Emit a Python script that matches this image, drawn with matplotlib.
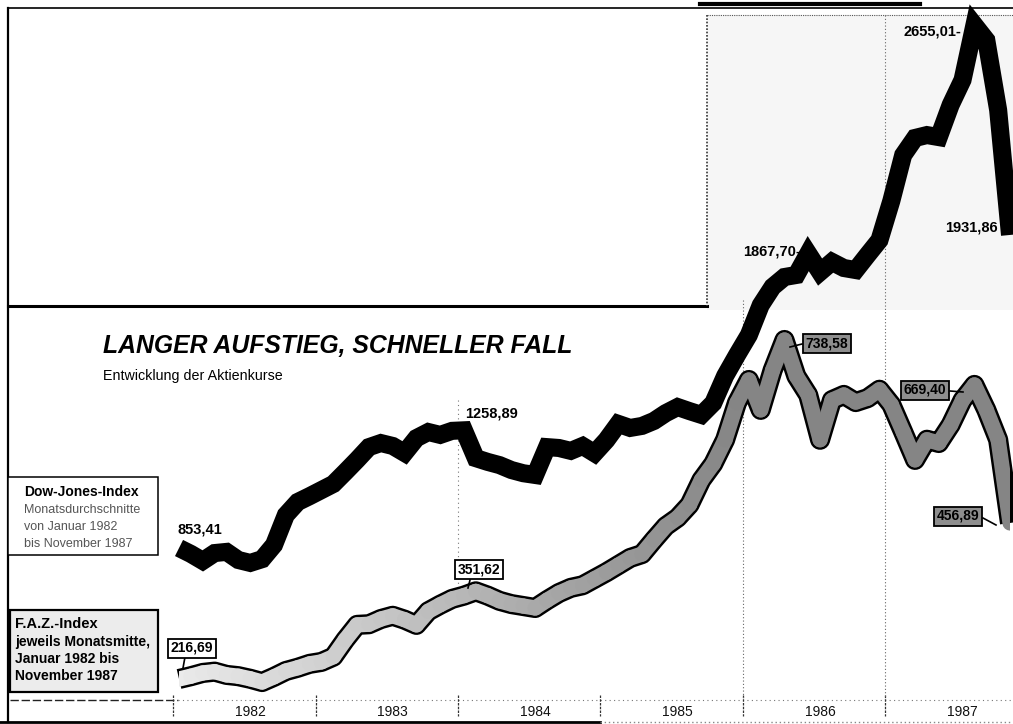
import matplotlib
matplotlib.use("Agg")
import matplotlib.pyplot as plt
from matplotlib import font_manager
from matplotlib.collections import LineCollection
from matplotlib.patches import Rectangle
import numpy as np

W, H = 1013, 724

# monthly values, Jan 1982 .. Nov 1987
MONTHS = np.arange(71)
DOW = [
    853.41, 833, 809, 836, 840, 812, 802, 815, 864, 967, 1012, 1032,
    1053, 1074, 1115, 1157, 1201, 1215, 1205, 1181, 1232, 1253, 1243, 1257,
    1258.89, 1163, 1150, 1139, 1122, 1111, 1105, 1201, 1198, 1188, 1205, 1180,
    1225, 1281, 1267, 1274, 1291, 1318, 1339, 1325, 1312, 1353, 1446, 1518,
    1587, 1690, 1753, 1787, 1794, 1867.70, 1804, 1839, 1818, 1811, 1863, 1914,
    2049, 2207, 2266, 2276, 2269, 2380, 2466, 2655.01, 2603, 2362, 1931.86,
]
FAZ = [
    216.69, 221, 226, 228, 223, 221, 217, 212, 220, 229, 234, 240,
    243, 251, 277, 300, 301, 309, 314, 308, 300, 321, 331, 340,
    345, 351.62, 345, 337, 332, 329, 326, 338, 349, 357, 361, 371,
    381, 392, 403, 409, 431, 452, 465, 485, 523, 548, 585, 642,
    677, 631, 692, 738.58, 683, 654, 585, 646, 654, 643, 649, 662,
    639, 597, 554, 585, 580, 608, 646, 669.40, 631, 585, 456.89,
]
YEARS = ["1982", "1983", "1984", "1985", "1986", "1987"]

DOW_LABELS = [(0, "853,41"), (24, "1258,89"), (53, "1867,70-"), (67, "2655,01-"), (70, "1931,86")]
FAZ_LABELS = [(0, "216,69"), (25, "351,62"), (51, "738,58"), (67, "669,40"), (70, "456,89")]

names = {f.name for f in font_manager.fontManager.ttflist}
NARROW = "Liberation Sans Narrow" if "Liberation Sans Narrow" in names else "Liberation Sans"
SANS = "Liberation Sans"

plt.rcParams["hatch.color"] = "#cfcfcf"
plt.rcParams["hatch.linewidth"] = 0.6

fig = plt.figure(figsize=(W / 100, H / 100), dpi=100)
fig.patch.set_facecolor("white")

# background layer, pixel coordinates
bg = fig.add_axes([0, 0, 1, 1], zorder=0)
bg.set_xlim(0, W)
bg.set_ylim(H, 0)
bg.axis("off")

bg.add_patch(Rectangle((707, 15), W - 707, 295, facecolor="#f6f6f6", edgecolor="none",
                       hatch="...", linewidth=0))
bg.plot([8, 8], [8, 722], color="black", lw=1.6)
bg.plot([8, W], [8, 8], color="black", lw=1.2)
bg.plot([700, 920], [4, 4], color="black", lw=3)
bg.plot([707, W], [15, 15], color="#555555", lw=0.8, ls=(0, (1, 1)))
bg.plot([8, 707], [306, 306], color="black", lw=2.2)
bg.plot([707, 707], [15, 306], color="#333333", lw=1.2, ls=(0, (1, 1)))
bg.plot([0, 600], [722, 722], color="black", lw=2)
bg.plot([600, W], [722, 722], color="#888888", lw=1, ls=(0, (1, 2)))


# month index -> pixel for guide lines
def px(m):
    return 179 + m * 11.87


# axis baseline, year ticks and guides
bg.plot([10, 178], [700, 700], color="#222222", lw=1, ls=(0, (6, 2)))
bg.plot([178, W], [700, 700], color="#777777", lw=0.8, ls=(0, (1, 3)))
for k in range(6):
    x0 = px(12 * k - 0.5)
    bg.plot([x0, x0], [695, 716], color="#333333", lw=0.9, ls=(0, (2, 1)))
    bg.text(px(12 * k + 6), 712, YEARS[k], ha="center", va="center",
            family=NARROW, fontsize=10, color="#111111")
bg.plot([px(23.5)] * 2, [400, 590], color="#777777", lw=0.8, ls=(0, (1, 3)))
bg.plot([px(47.5)] * 2, [300, 700], color="#666666", lw=0.8, ls=(0, (1, 2)))
bg.plot([px(59.5)] * 2, [15, 700], color="#666666", lw=0.8, ls=(0, (1, 2)))

# Dow-Jones axes
ax = fig.add_axes([0, 0, 1, 1], zorder=1)
ax.patch.set_alpha(0)
ax.axis("off")
ax.set_xlim(-15.08, 70.25)
ax.set_ylim(247.1, 2741.3)
ax.plot(MONTHS, DOW, color="black", lw=13, solid_joinstyle="miter", solid_capstyle="butt")

# F.A.Z. axes
ax2 = fig.add_axes([0, 0, 1, 1], zorder=2)
ax2.patch.set_alpha(0)
ax2.axis("off")
ax2.set_xlim(-15.08, 70.25)
ax2.set_ylim(147.4, 1262.0)

ax2.plot(MONTHS, FAZ, color="black", lw=14.5, solid_joinstyle="round", solid_capstyle="butt")
pts = np.column_stack([MONTHS, FAZ])
segs = np.stack([pts[:-1], pts[1:]], axis=1)
shade = []
for i in range(len(segs)):
    t = min(i / 47.0, 1.0)
    g = 0.92 - 0.40 * t
    shade.append((g, g, g))
lc = LineCollection(segs, colors=shade, linewidths=11.0, capstyle="round", joinstyle="round")
ax2.add_collection(lc)
clip = Rectangle((MONTHS[0], 0), MONTHS[-1] - MONTHS[0], 2000, transform=ax2.transData)
lc.set_clip_path(clip)

# text layer
fg = fig.add_axes([0, 0, 1, 1], zorder=3)
fg.patch.set_alpha(0)
fg.set_xlim(0, W)
fg.set_ylim(H, 0)
fg.axis("off")

fg.text(103, 346, "LANGER AUFSTIEG, SCHNELLER FALL", family=SANS, weight="bold",
        style="italic", fontsize=17.8, va="center", ha="left")
fg.text(103, 376, "Entwicklung der Aktienkurse", family=SANS, fontsize=10.3,
        va="center", ha="left")

# Dow labels
dow_pos = {0: (177, 529), 24: (465, 413), 53: (743, 252), 67: (903, 31), 70: (945, 228)}
for m, lab in DOW_LABELS:
    x, y = dow_pos[m]
    fg.text(x, y, lab, family=NARROW, weight="bold", fontsize=10.5, va="center", ha="left")

# FAZ labels in boxes
faz_pos = {0: (192, 648), 25: (479, 569), 51: (827, 343), 67: (925, 390), 70: (958, 516)}
faz_lead = {0: ((185, 657), (183, 668)), 25: ((470, 580), (468, 588)),
            51: ((802, 344), (790, 347)), 67: ((950, 391), (963, 392)),
            70: ((983, 518), (996, 525))}
for m, lab in FAZ_LABELS:
    x, y = faz_pos[m]
    fc = "white" if m < 40 else "#8e8e8e"
    fg.text(x, y, lab, family=NARROW, weight="bold", fontsize=10, va="center", ha="center",
            bbox=dict(boxstyle="square,pad=0.18", fc=fc, ec="black", lw=1.3))
    (x1, y1), (x2, y2) = faz_lead[m]
    fg.plot([x1, x2], [y1, y2], color="black", lw=1.2)

# legend boxes
fg.add_patch(Rectangle((8, 477), 150, 78, facecolor="white", edgecolor="black", lw=1.1))
fg.text(24, 492, "Dow-Jones-Index", family=NARROW, weight="bold", fontsize=10, va="center")
for i, s in enumerate(["Monatsdurchschnitte", "von Januar 1982", "bis November 1987"]):
    fg.text(24, 510 + 17 * i, s, family=NARROW, fontsize=9, va="center", color="#555555")

fg.add_patch(Rectangle((10, 610), 148, 82, facecolor="#ececec", edgecolor="black", lw=1.6))
fg.text(15, 624, "F.A.Z.-Index", family=NARROW, weight="bold", fontsize=10.5, va="center")
for i, s in enumerate(["jeweils Monatsmitte,", "Januar 1982 bis", "November 1987"]):
    fg.text(15, 642 + 17 * i, s, family=NARROW, weight="bold", fontsize=10, va="center")

fig.savefig("out.png", dpi=100)
